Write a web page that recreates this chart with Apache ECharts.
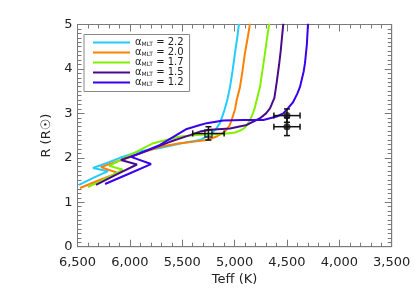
<!DOCTYPE html>
<html>
<head>
<meta charset="utf-8">
<script src="https://cdn.jsdelivr.net/npm/echarts@6/dist/echarts.min.js"></script>
<style>
  html,body{margin:0;padding:0;background:#fff;}
  #chart{width:415px;height:297px;}
</style>
</head>
<body>
<div id="chart"></div>
<script>
// evolutionary tracks, [Teff, R]
const track22 = [[6486,1.39],[6350,1.55],[6209,1.70],[6352,1.77],[6200,1.90],[6094,2.00],[5900,2.15],[5712,2.22],[5520,2.32],[5330,2.40],[5235,2.52],[5180,2.64],[5140,2.78],[5100,3.05],[5070,3.30],[5044,3.59],[5020,3.95],[4996,4.36],[4975,4.70],[4958,5.02]]
const track20 = [[6476,1.32],[6300,1.49],[6113,1.66],[6276,1.79],[6094,1.94],[5900,2.10],[5712,2.25],[5520,2.33],[5362,2.37],[5266,2.40],[5171,2.48],[5092,2.59],[5050,2.72],[5028,2.85],[4995,3.10],[4980,3.30],[4949,3.59],[4925,3.95],[4901,4.36],[4875,4.70],[4853,5.02]]
const track17 = [[6400,1.34],[6230,1.53],[6068,1.73],[6196,1.82],[5999,2.06],[5776,2.33],[5521,2.48],[5330,2.52],[5200,2.53],[5090,2.54],[4996,2.57],[4940,2.62],[4901,2.68],[4865,2.80],[4837,2.93],[4810,3.10],[4789,3.30],[4757,3.60],[4735,3.95],[4710,4.35],[4690,4.70],[4669,5.02]]
const track15 = [[6323,1.39],[6130,1.62],[5932,1.85],[6085,1.95],[5903,2.10],[5617,2.36],[5426,2.51],[5330,2.59],[5235,2.63],[5044,2.66],[4884,2.74],[4757,2.89],[4700,3.00],[4662,3.11],[4620,3.35],[4598,3.70],[4575,4.10],[4560,4.40],[4535,5.02]]
const track12 = [[6237,1.41],[6020,1.63],[5798,1.86],[5989,2.02],[5712,2.29],[5457,2.65],[5330,2.74],[5266,2.78],[5108,2.84],[4917,2.85],[4726,2.85],[4598,2.93],[4535,3.00],[4490,3.12],[4442,3.25],[4400,3.45],[4375,3.60],[4340,3.95],[4328,4.13],[4310,4.55],[4299,5.02]]
const alphaLabels = ['2.2','2.0','1.7','1.5','1.2']
const trackColors = ['#22ccff','#ff8000','#80f000','#4b0a8c','#3a00f0']

// observed stars
const starT = [5250, 4500, 4500]
const starR = [2.55, 2.95, 2.70]
const starErrT = [150, 125, 125]
const starErrR = [0.15, 0.15, 0.20]
const starSymbol = ['rect', 'circle', 'circle']

const xTicks = [6500,6000,5500,5000,4500,4000,3500]
const yTicks = [0,1,2,3,4,5]

const tracks = [track22, track20, track17, track15, track12]
const names = alphaLabels.map(a => 'a' + a)

let myChart = echarts.init(document.getElementById('chart'))

const axisGray = '#7a7a7a'
const baseX = () => ({
  type:'value', min: xTicks[xTicks.length-1], max: xTicks[0], interval:500, inverse:true,
  axisLine:{show:true, onZero:false, lineStyle:{color:axisGray, width:1}},
  axisTick:{show:true, inside:true, length:7, lineStyle:{color:axisGray}},
  minorTick:{show:true, splitNumber:5, length:4, lineStyle:{color:axisGray}},
  splitLine:{show:false}
})
const baseY = () => ({
  type:'value', min: yTicks[0], max: yTicks[yTicks.length-1], interval:1,
  axisLine:{show:true, onZero:false, lineStyle:{color:axisGray, width:1}},
  axisTick:{show:true, inside:true, length:7, lineStyle:{color:axisGray}},
  minorTick:{show:true, splitNumber:10, length:4, lineStyle:{color:axisGray}},
  splitLine:{show:false}
})

const series = tracks.map((tr, i) => ({
  name: names[i],
  type:'line',
  data: tr,
  symbol:'none',
  smooth:false,
  clip:true,
  lineStyle:{color:trackColors[i], width:2},
  itemStyle:{color:trackColors[i]},
  z: 2
}))

// error bars
series.push({
  type:'custom',
  data: starT.map((t,i) => [t, starR[i], starErrT[i], starErrR[i]]),
  renderItem: function(params, api){
    const t = api.value(0), r = api.value(1), dt = api.value(2), dr = api.value(3)
    const l = api.coord([t+dt, r]), rt = api.coord([t-dt, r])
    const top = api.coord([t, r+dr]), bot = api.coord([t, r-dr])
    const cap = 3
    const st = {stroke:'#111', lineWidth:1.5}
    return {type:'group', children:[
      {type:'line', shape:{x1:l[0],y1:l[1],x2:rt[0],y2:rt[1]}, style:st},
      {type:'line', shape:{x1:l[0],y1:l[1]-cap,x2:l[0],y2:l[1]+cap}, style:st},
      {type:'line', shape:{x1:rt[0],y1:rt[1]-cap,x2:rt[0],y2:rt[1]+cap}, style:st},
      {type:'line', shape:{x1:top[0],y1:top[1],x2:bot[0],y2:bot[1]}, style:st},
      {type:'line', shape:{x1:top[0]-cap,y1:top[1],x2:top[0]+cap,y2:top[1]}, style:st},
      {type:'line', shape:{x1:bot[0]-cap,y1:bot[1],x2:bot[0]+cap,y2:bot[1]}, style:st}
    ]}
  },
  z: 5
})

// star markers
series.push({
  type:'scatter',
  data: starT.map((t,i) => ({
    value:[t, starR[i]],
    symbol: starSymbol[i],
    symbolSize: 7,
    itemStyle: starSymbol[i] == 'rect'
      ? {color:'rgba(0,0,0,0)', borderColor:'#111', borderWidth:1.5}
      : {color:'#111'}
  })),
  z: 6
})

// empty series so the mirrored top/right axes get drawn
series.push({type:'line', xAxisIndex:1, yAxisIndex:1, data:[], silent:true})

const option = {
  animation:false,
  backgroundColor:'#fff',
  grid:{left:77.5, right:23.3, top:24.5, bottom:50.3, show:true, borderColor:axisGray, borderWidth:1},
  legend:{
    data: names,
    orient:'vertical',
    left:84, top:34.5,
    padding:[3,6,4,9],
    itemWidth:37, itemHeight:2, itemGap:0,
    icon:'rect',
    borderColor:'#888', borderWidth:1,
    backgroundColor:'#fff',
    formatter: function(name){
      return '{a|α}{s|MLT}{a| = ' + name.slice(1) + '}'
    },
    textStyle:{
      fontFamily:'DejaVu Sans', color:'#222', padding:[0,0,0,0],
      rich:{
        a:{fontSize:10, lineHeight:10, fontFamily:'DejaVu Sans', color:'#222'},
        s:{fontSize:6, lineHeight:10, verticalAlign:'bottom', padding:[4,0,0,0], fontFamily:'DejaVu Sans', color:'#222'}
      }
    }
  },
  xAxis:[
    Object.assign(baseX(), {
      position:'bottom',
      name:'Teff (K)', nameLocation:'middle', nameGap:24,
      nameTextStyle:{fontFamily:'DejaVu Sans', fontSize:13, color:'#222'},
      axisLabel:{show:true, margin:9, fontFamily:'DejaVu Sans', fontSize:13, color:'#222'}
    }),
    Object.assign(baseX(), {position:'top', axisLabel:{show:false}})
  ],
  yAxis:[
    Object.assign(baseY(), {
      position:'left',
      name:'R (R☉)', nameLocation:'middle', nameGap:22,
      nameTextStyle:{fontFamily:'DejaVu Sans', fontSize:13, color:'#222'},
      axisLabel:{show:true, margin:5, fontFamily:'DejaVu Sans', fontSize:13, color:'#222'}
    }),
    Object.assign(baseY(), {position:'right', axisLabel:{show:false}})
  ],
  series: series
}
myChart.setOption(option)
</script>
</body>
</html>
